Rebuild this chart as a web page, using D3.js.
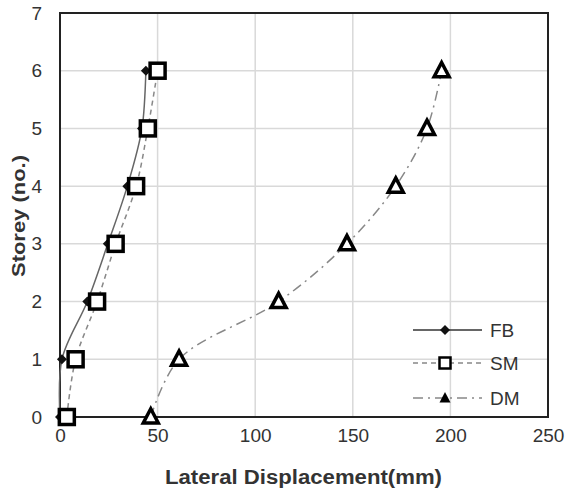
<!DOCTYPE html>
<html><head><meta charset="utf-8">
<script src="https://cdn.jsdelivr.net/npm/d3@7"></script>
<style>body{margin:0;background:#fff}svg{display:block}</style>
</head><body>
<script>
const storeys = [0,1,2,3,4,5,6];
const fb = [0, 1, 14, 24.5, 34.5, 42, 44];
const sm = [3.5, 8, 19, 28.5, 39, 45, 50];
const dm = [46.5, 61, 112, 147, 172, 188, 195.5];
const xTicks = [0,50,100,150,200,250];
const yTicks = [0,1,2,3,4,5,6,7];
const seriesNames = ["FB","SM","DM"];

const W=568,H=495;
const m={l:60,r:20,t:13,b:78};
const svg=d3.select("body").append("svg").attr("width",W).attr("height",H);
const x=d3.scaleLinear().domain([0,250]).range([m.l,W-m.r]);
const y=d3.scaleLinear().domain([0,7]).range([H-m.b,m.t]);
const font="'Liberation Sans', Arial, sans-serif";

// grid
svg.append("g").selectAll("line.v").data(xTicks.slice(1,-1)).join("line")
 .attr("x1",d=>x(d)).attr("x2",d=>x(d)).attr("y1",y(0)).attr("y2",y(7))
 .attr("stroke","#d9d9d9").attr("stroke-width",1.5);
svg.append("g").selectAll("line.h").data(yTicks.slice(1,-1)).join("line")
 .attr("y1",d=>y(d)).attr("y2",d=>y(d)).attr("x1",x(0)).attr("x2",x(250))
 .attr("stroke","#d9d9d9").attr("stroke-width",1.5);

// frame
svg.append("rect").attr("x",x(0)).attr("y",y(7)).attr("width",x(250)-x(0)).attr("height",y(0)-y(7))
 .attr("fill","none").attr("stroke","#222").attr("stroke-width",2);

// axes
const xa=svg.append("g").attr("transform",`translate(0,${y(0)})`)
 .call(d3.axisBottom(x).tickValues(xTicks).tickFormat(d3.format("d")).tickSize(0).tickPadding(12));
const ya=svg.append("g").attr("transform",`translate(${x(0)},0)`)
 .call(d3.axisLeft(y).tickValues(yTicks).tickFormat(d3.format("d")).tickSize(0).tickPadding(18));
[xa,ya].forEach(a=>{a.select(".domain").remove();
 a.selectAll("text").attr("font-family",font).attr("font-size",19).attr("fill","#333");});

svg.append("text").attr("x",165).attr("y",484)
 .attr("font-family",font).attr("font-weight","bold").attr("font-size",20).attr("fill","#333")
 .attr("textLength",277).attr("lengthAdjust","spacingAndGlyphs")
 .text("Lateral Displacement(mm)");
svg.append("text").attr("transform",`translate(25,277) rotate(-90)`)
 .attr("font-family",font).attr("font-weight","bold").attr("font-size",18).attr("fill","#333")
 .attr("textLength",122).attr("lengthAdjust","spacingAndGlyphs")
 .text("Storey (no.)");

const line=d3.line().curve(d3.curveCatmullRom.alpha(0.5));
const series=[
 {name:"FB",vals:fb,dash:null,color:"#666"},
 {name:"SM",vals:sm,dash:"5,4",color:"#888"},
 {name:"DM",vals:dm,dash:"10,5,2,5",color:"#888"}
];
series.forEach(s=>{
 svg.append("path").attr("d",line(s.vals.map((v,i)=>[x(v),y(storeys[i])])))
  .attr("fill","none").attr("stroke",s.color).attr("stroke-width",1.5)
  .attr("stroke-dasharray",s.dash);
});

function marker(g,name,cx,cy,big){
 if(name==="FB"){
  const r=5;
  g.append("path").attr("d",`M${cx},${cy-r}L${cx+r},${cy}L${cx},${cy+r}L${cx-r},${cy}Z`).attr("fill","#111");
 } else if(name==="SM"){
  const s=big?15:11;
  g.append("rect").attr("x",cx-s/2).attr("y",cy-s/2).attr("width",s).attr("height",s)
   .attr("fill","#fff").attr("stroke","#000").attr("stroke-width",big?3.5:2.5);
 } else {
  if(big){
   const s=15;
   g.append("path").attr("d",`M${cx},${cy-s*0.55}L${cx+s/2},${cy+s*0.4}L${cx-s/2},${cy+s*0.4}Z`)
    .attr("fill","#fff").attr("stroke","#000").attr("stroke-width",3.5).attr("stroke-linejoin","miter");
  } else {
   const s=11;
   g.append("path").attr("d",`M${cx},${cy-s*0.55}L${cx+s/2},${cy+s*0.4}L${cx-s/2},${cy+s*0.4}Z`).attr("fill","#000");
  }
 }
}
const mg=svg.append("g");
series.forEach(s=>{
 s.vals.forEach((v,i)=>marker(mg,s.name,x(v),y(storeys[i]),true));
});

// legend
const ly=[330,363,398];
series.forEach((s,i)=>{
 svg.append("line").attr("x1",413).attr("x2",482).attr("y1",ly[i]).attr("y2",ly[i])
  .attr("stroke",i===0?"#333":"#888").attr("stroke-width",1.5).attr("stroke-dasharray",s.dash);
 marker(svg,s.name,445,ly[i],false);
 svg.append("text").attr("x",490).attr("y",ly[i]+7).attr("font-family",font).attr("font-size",19)
  .attr("fill","#333").text(seriesNames[i]);
});
</script>
</body></html>
